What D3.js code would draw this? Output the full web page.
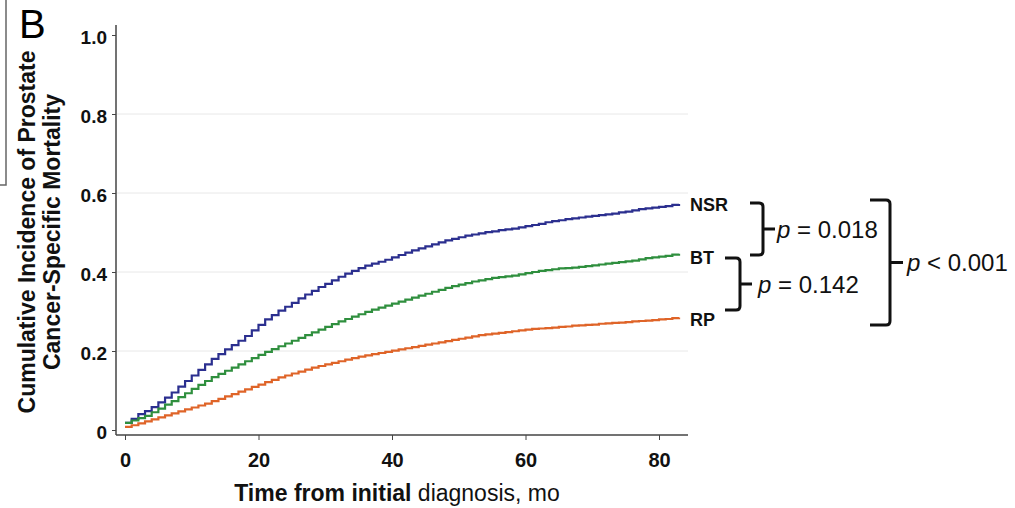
<!DOCTYPE html>
<html>
<head>
<meta charset="utf-8">
<script src="https://cdn.jsdelivr.net/npm/d3@7"></script>
<style>
  body { margin: 0; background: #fff; }
  svg text { font-family: "Liberation Sans", Arial, sans-serif; }
</style>
</head>
<body>
<div id="chart"></div>
<script>
// chart size
const width = 1015;
const height = 508;

// data (cumulative incidence at each month)
const months = d3.range(0, 84);
const nsr = [0.018, 0.028, 0.040, 0.048, 0.058, 0.070, 0.082, 0.095, 0.110, 0.124,
  0.138, 0.152, 0.166, 0.180, 0.192, 0.204, 0.215, 0.226, 0.238, 0.252,
  0.266, 0.280, 0.291, 0.302, 0.312, 0.322, 0.333, 0.343, 0.352, 0.362,
  0.370, 0.379, 0.388, 0.396, 0.403, 0.410, 0.416, 0.421, 0.426, 0.431,
  0.437, 0.443, 0.449, 0.455, 0.460, 0.465, 0.470, 0.475, 0.480, 0.484,
  0.488, 0.492, 0.495, 0.498, 0.501, 0.503, 0.506, 0.508, 0.510, 0.513,
  0.516, 0.519, 0.522, 0.526, 0.529, 0.531, 0.534, 0.536, 0.538, 0.540,
  0.542, 0.544, 0.546, 0.548, 0.551, 0.553, 0.556, 0.559, 0.561, 0.563,
  0.565, 0.567, 0.570, 0.572];
const bt = [0.018, 0.024, 0.030, 0.036, 0.045, 0.054, 0.064, 0.073, 0.083, 0.093,
  0.104, 0.114, 0.124, 0.134, 0.142, 0.150, 0.158, 0.166, 0.174, 0.182,
  0.190, 0.198, 0.205, 0.212, 0.219, 0.226, 0.233, 0.240, 0.247, 0.254,
  0.261, 0.268, 0.275, 0.281, 0.287, 0.293, 0.299, 0.305, 0.310, 0.315,
  0.320, 0.325, 0.330, 0.335, 0.340, 0.345, 0.350, 0.355, 0.360, 0.364,
  0.368, 0.372, 0.376, 0.379, 0.382, 0.385, 0.387, 0.389, 0.391, 0.394,
  0.397, 0.400, 0.403, 0.405, 0.407, 0.409, 0.410, 0.411, 0.413, 0.415,
  0.417, 0.419, 0.421, 0.423, 0.425, 0.427, 0.429, 0.432, 0.435, 0.437,
  0.439, 0.441, 0.444, 0.446];
const rp = [0.008, 0.012, 0.017, 0.022, 0.027, 0.032, 0.037, 0.042, 0.047, 0.052,
  0.057, 0.062, 0.067, 0.073, 0.079, 0.085, 0.091, 0.097, 0.103, 0.109,
  0.115, 0.121, 0.127, 0.133, 0.138, 0.143, 0.148, 0.153, 0.158, 0.162,
  0.166, 0.170, 0.174, 0.178, 0.182, 0.186, 0.189, 0.192, 0.195, 0.198,
  0.201, 0.204, 0.207, 0.210, 0.213, 0.216, 0.219, 0.222, 0.225, 0.228,
  0.231, 0.234, 0.237, 0.240, 0.242, 0.244, 0.246, 0.248, 0.250, 0.252,
  0.254, 0.256, 0.257, 0.258, 0.259, 0.261, 0.262, 0.264, 0.265, 0.266,
  0.267, 0.269, 0.270, 0.271, 0.272, 0.273, 0.275, 0.276, 0.277, 0.278,
  0.280, 0.281, 0.283, 0.285];

const seriesNames = ["NSR", "BT", "RP"];
const seriesColors = ["#2b2f8f", "#2f8f3e", "#df6428"];
const xTicks = [0, 20, 40, 60, 80];
const yTicks = [0, 0.2, 0.4, 0.6, 0.8, 1.0];
const gridTicks = [0.2, 0.4, 0.6, 0.8];

const svg = d3.select("#chart")
  .append("svg")
  .attr("width", width)
  .attr("height", height);

// scales
const x = d3.scaleLinear().domain([0, 80]).range([125, 659]);
const y = d3.scaleLinear().domain([0, 1]).range([430, 35]);
const axisX = 116;   // where the y axis sits
const axisY = 435;   // where the x axis sits
const plotRight = 688;

// panel box on the far left
svg.append("path")
  .attr("d", "M6,0 V185 H0")
  .attr("fill", "none")
  .attr("stroke", "#666")
  .attr("stroke-width", 1.5);

svg.append("text")
  .attr("x", 19)
  .attr("y", 38)
  .attr("font-size", 40)
  .text("B");

// gridlines
svg.append("g")
  .selectAll("line")
  .data(gridTicks)
  .enter().append("line")
  .attr("x1", axisX + 1)
  .attr("x2", plotRight)
  .attr("y1", d => y(d))
  .attr("y2", d => y(d))
  .attr("stroke", "#e8e8e8")
  .attr("stroke-width", 1);

// y axis
const yAxis = svg.append("g")
  .attr("transform", `translate(${axisX},0)`)
  .call(d3.axisLeft(y).tickValues(yTicks).tickSize(4).tickPadding(5)
    .tickFormat(d => d === 0 ? "0" : d3.format(".1f")(d)));
yAxis.select(".domain").remove();
yAxis.selectAll("line").attr("stroke", "#444");
yAxis.selectAll("text")
  .attr("font-size", 19)
  .attr("font-weight", "bold")
  .attr("fill", "#111")
  .attr("dy", "0.45em")
  .style("font-family", "'Liberation Sans', Arial, sans-serif");

// x axis
const xAxis = svg.append("g")
  .attr("transform", `translate(0,${axisY})`)
  .call(d3.axisBottom(x).tickValues(xTicks).tickSize(5).tickPadding(13));
xAxis.select(".domain").remove();
xAxis.selectAll("line").attr("stroke", "#444");
xAxis.selectAll("text")
  .attr("font-size", 20)
  .attr("font-weight", "bold")
  .attr("fill", "#111")
  .style("font-family", "'Liberation Sans', Arial, sans-serif");

// axis lines
svg.append("line")
  .attr("x1", axisX).attr("x2", axisX)
  .attr("y1", 25).attr("y2", axisY)
  .attr("stroke", "#444").attr("stroke-width", 1.5);
svg.append("line")
  .attr("x1", axisX).attr("x2", plotRight)
  .attr("y1", axisY).attr("y2", axisY)
  .attr("stroke", "#444").attr("stroke-width", 1.5);

// step curves
const line = d3.line()
  .x(d => x(d[0]))
  .y(d => y(d[1]))
  .curve(d3.curveStepAfter);

[nsr, bt, rp].forEach((vals, i) => {
  svg.append("path")
    .datum(months.map((m, j) => [m, vals[j]]))
    .attr("d", line)
    .attr("fill", "none")
    .attr("stroke", seriesColors[i])
    .attr("stroke-width", 2.2);
});

// series labels at the right end
const labelY = [205, 258, 320];
seriesNames.forEach((name, i) => {
  svg.append("text")
    .attr("x", 690)
    .attr("y", labelY[i])
    .attr("dy", "0.36em")
    .attr("font-size", 18)
    .attr("font-weight", "bold")
    .attr("fill", "#111")
    .text(name);
});

// axis titles
const yTitle = svg.append("text")
  .attr("transform", "translate(0,232) rotate(-90)")
  .attr("text-anchor", "middle")
  .attr("font-size", 23)
  .attr("font-weight", "bold")
  .attr("fill", "#111");
yTitle.append("tspan").attr("x", 0).attr("y", 35).text("Cumulative Incidence of Prostate");
yTitle.append("tspan").attr("x", 0).attr("y", 60).text("Cancer-Specific Mortality");

const xTitle = svg.append("text")
  .attr("x", 397)
  .attr("y", 501)
  .attr("text-anchor", "middle")
  .attr("font-size", 23)
  .attr("fill", "#111");
xTitle.append("tspan").attr("font-weight", "bold").text("Time from initial ");
xTitle.append("tspan").text("diagnosis, mo");

// p-value brackets
const brackets = [
  { l: 750, r: 763, t: 203, b: 255, tick: 775, tx: 777, text: "= 0.018" },
  { l: 725, r: 740, t: 258, b: 310, tick: 752, tx: 758, text: "= 0.142" },
  { l: 870, r: 890, t: 200, b: 325, tick: 903, tx: 907, text: "< 0.001" }
];
brackets.forEach(br => {
  const mid = (br.t + br.b) / 2;
  svg.append("path")
    .attr("d", `M${br.l},${br.t} H${br.r - 4} Q${br.r},${br.t} ${br.r},${br.t + 4} V${br.b - 4} Q${br.r},${br.b} ${br.r - 4},${br.b} H${br.l} M${br.r},${mid} H${br.tick}`)
    .attr("fill", "none")
    .attr("stroke", "#111")
    .attr("stroke-width", 3)
    .attr("stroke-linejoin", "round");
  const t = svg.append("text")
    .attr("x", br.tx)
    .attr("y", mid)
    .attr("dy", "0.36em")
    .attr("font-size", 24)
    .attr("fill", "#111");
  t.append("tspan").attr("font-style", "italic").text("p");
  t.append("tspan").text(" " + br.text);
});
</script>
</body>
</html>
